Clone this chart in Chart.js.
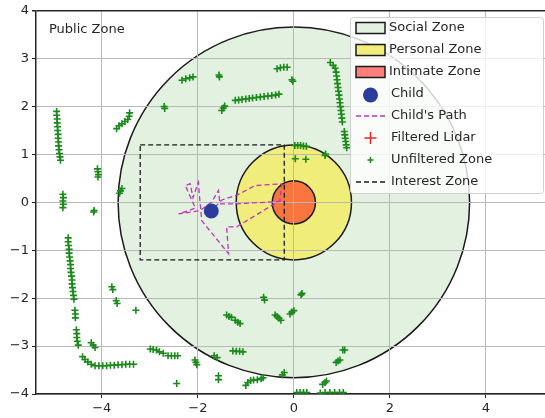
<!DOCTYPE html>
<html>
<head>
<meta charset="utf-8">
<script src="https://cdn.jsdelivr.net/npm/chart.js@4.4.0/dist/chart.umd.min.js"></script>
<style>
html, body { margin: 0; padding: 0; background: #fff; }
</style>
</head>
<body>
<canvas id="zones-chart" width="545" height="418"></canvas>
<script>
// tick labels
var xTicks = [-4, -2, 0, 2, 4];
var yTicks = [-4, -3, -2, -1, 0, 1, 2, 3, 4];

// zones around the robot (radius in metres)
var zoneNames = ["Social Zone", "Personal Zone", "Intimate Zone"];
var zoneRadii = [3.66, 1.2, 0.45];

// child position and path
var childX = [-1.72];
var childY = [-0.18];
var pathX = [-0.27, -1.22, -1.54, -1.57, -1.71, -1.95, -2.40, -2.05, -2.26, -2.16, -2.10, -1.99, -1.92, -1.36, -1.40, -1.19, -0.29, -0.25, -0.81, -1.19, -1.50, -1.72];
var pathY = [0.02, -0.03, -0.03, 0.25, 0.01, -0.17, -0.24, -0.12, 0.35, 0.39, 0.10, 0.42, -0.38, -1.07, -0.51, -0.51, 0.04, 0.39, 0.35, 0.15, 0.05, -0.18];

// interest zone rectangle corners
var interestX = [-3.2, -0.2, -0.2, -3.2, -3.2];
var interestY = [1.2, 1.2, -1.2, -1.2, 1.2];

// unfiltered lidar points
var lidarX = [
  -4.94, -4.94, -4.93, -4.93, -4.92, -4.92, -4.91, -4.91, -4.90, -4.90, -4.89, -4.88, -4.87, -4.86,
  -4.09, -4.08, -4.07, -4.08,
  -4.81, -4.80, -4.81, -4.80, -4.81,
  -4.16, -4.17,
  -3.69, -3.64, -3.58, -3.52, -3.46, -3.43, -3.42,
  -3.58, -3.63, -3.61,
  -4.70, -4.70, -4.69, -4.68, -4.68, -4.67, -4.66, -4.65, -4.65, -4.64, -4.63, -4.62, -4.62, -4.61, -4.60, -4.59, -4.58,
  -4.56, -4.55, -4.55,
  -4.53, -4.52, -4.52, -4.51, -4.49,
  -4.22, -4.18, -4.14,
  -3.79, -3.77, -3.70, -3.68, -3.29,
  -4.40, -4.35, -4.29, -4.22, -4.14, -4.06, -3.98, -3.90, -3.82, -3.74, -3.66, -3.58, -3.50, -3.42, -3.34,
  -2.33, -2.25, -2.17, -2.10,
  -1.56, -1.55,
  -2.70, -2.69,
  -1.50, -1.47, -1.44,
  -1.22, -1.15, -1.08, -1.00, -0.93, -0.86, -0.78, -0.70, -0.62, -0.54, -0.46, -0.38, -0.31,
  -0.35, -0.28, -0.21, -0.14,
  -0.04, -0.02,
  0.76, 0.82, 0.86, 0.88, 0.89, 0.90, 0.91, 0.92, 0.93, 0.94, 0.95, 0.96, 0.97, 0.98, 0.99, 1.00, 1.01, 1.05, 1.06, 1.07, 1.08, 1.09, 1.10,
  0.02, 0.08, 0.14, 0.20, 0.26,
  0.03, 0.25, 0.65, 0.66,
  -0.63, -0.61,
  0.17, 0.15,
  -1.40, -1.35, -1.30, -1.22, -1.17, -1.12,
  -0.39, -0.35, -0.31, -0.27,
  -0.08, -0.04, 0.00,
  -2.99, -2.93, -2.86, -2.80, -2.72,
  -2.62, -2.55, -2.48, -2.42,
  -2.06, -2.04, -2.02,
  -2.44,
  -1.57, -1.57,
  -1.66, -1.60,
  -1.27, -1.20, -1.13, -1.06,
  -1.00, -0.96, -0.90, -0.84, -0.76, -0.68, -0.64,
  -0.20, -0.24,
  0.06, 0.13, 0.20, 0.27,
  0.55, 0.65, 0.75, 0.85, 0.95, 1.03,
  0.60, 0.65, 0.68,
  0.88, 0.92, 0.96,
  1.02, 1.06
];
var lidarY = [
  1.90, 1.82, 1.74, 1.66, 1.58, 1.50, 1.42, 1.34, 1.26, 1.18, 1.10, 1.02, 0.95, 0.88,
  0.70, 0.64, 0.58, 0.53,
  0.17, 0.10, 0.03, -0.04, -0.11,
  -0.17, -0.20,
  1.54, 1.60, 1.64, 1.69, 1.73, 1.80, 1.87,
  0.29, 0.19, 0.24,
  -0.74, -0.82, -0.90, -0.98, -1.06, -1.14, -1.22, -1.30, -1.38, -1.46, -1.54, -1.62, -1.70, -1.78, -1.86, -1.94, -2.02,
  -2.25, -2.33, -2.41,
  -2.66, -2.74, -2.82, -2.90, -2.98,
  -2.93, -2.98, -3.03,
  -1.76, -1.82, -2.05, -2.11, -2.25,
  -3.22, -3.28, -3.33, -3.38, -3.41, -3.41, -3.41, -3.41, -3.40, -3.40, -3.39, -3.39, -3.38, -3.38, -3.38,
  2.55, 2.58, 2.60, 2.62,
  2.66, 2.62,
  2.00, 1.96,
  1.92, 1.97, 2.01,
  2.13, 2.14, 2.15, 2.16, 2.17, 2.18, 2.19, 2.20, 2.21, 2.22, 2.23, 2.24, 2.26,
  2.79, 2.81, 2.82, 2.82,
  2.56, 2.53,
  2.92, 2.86, 2.80, 2.72, 2.64, 2.56, 2.48, 2.40, 2.32, 2.24, 2.16, 2.08, 2.00, 1.92, 1.84, 1.76, 1.68, 1.48, 1.41, 1.34, 1.27, 1.20, 1.14,
  1.19, 1.19, 1.19, 1.18, 1.17,
  0.91, 0.90, 0.98, 1.01,
  -1.98, -2.04,
  -1.90, -1.93,
  -2.35, -2.38, -2.40, -2.46, -2.50, -2.53,
  -2.35, -2.38, -2.42, -2.46,
  -2.33, -2.29, -2.26,
  -3.06, -3.07, -3.08, -3.12, -3.15,
  -3.20, -3.20, -3.20, -3.20,
  -3.29, -3.34, -3.39,
  -3.78,
  -3.62, -3.70,
  -3.20, -3.24,
  -3.10, -3.11, -3.11, -3.12,
  -3.82, -3.76, -3.72, -3.71, -3.70, -3.68, -3.66,
  -3.55, -3.60,
  -3.97, -3.97, -3.97, -3.97,
  -3.98, -3.97, -3.97, -3.97, -3.97, -3.97,
  -3.80, -3.76, -3.73,
  -3.34, -3.31, -3.29,
  -3.08, -3.08
];

var legendLabels = ["Social Zone", "Personal Zone", "Intimate Zone", "Child", "Child's Path", "Filtered Lidar", "Unfiltered Zone", "Interest Zone"];

var zoneFill = ['#e3f1e0', '#f1ed7a', 'rgba(255, 0, 0, 0.5)'];
var fontFamily = "'DejaVu Sans', sans-serif";
var textColor = '#262626';

function toPoints(xs, ys) {
  var pts = [];
  for (var i = 0; i < xs.length; i++) {
    pts.push({x: xs[i], y: ys[i]});
  }
  return pts;
}

function fmt(v) {
  return v < 0 ? '\u2212' + (-v) : String(v);
}

// circles for the zones, drawn under the grid
var zonesPlugin = {
  id: 'zones',
  beforeDraw: function(chart) {
    var ctx = chart.ctx;
    var xs = chart.scales.x, ys = chart.scales.y;
    var area = chart.chartArea;
    ctx.save();
    ctx.fillStyle = '#fff';
    ctx.fillRect(0, 0, chart.width, chart.height);
    ctx.beginPath();
    ctx.rect(area.left, area.top, area.right - area.left, area.bottom - area.top);
    ctx.clip();
    for (var i = 0; i < zoneRadii.length; i++) {
      var cx = xs.getPixelForValue(0), cy = ys.getPixelForValue(0);
      var rx = xs.getPixelForValue(zoneRadii[i]) - cx;
      var ry = cy - ys.getPixelForValue(zoneRadii[i]);
      ctx.beginPath();
      ctx.ellipse(cx, cy, rx, ry, 0, 0, Math.PI * 2);
      ctx.fillStyle = zoneFill[i];
      ctx.fill();
      ctx.lineWidth = 1.5;
      ctx.strokeStyle = '#1a1a1a';
      ctx.stroke();
    }
    ctx.restore();
  },
  afterDraw: function(chart) {
    var ctx = chart.ctx;
    var xs = chart.scales.x, ys = chart.scales.y;
    ctx.save();
    ctx.font = '13px ' + fontFamily;
    ctx.fillStyle = textColor;
    ctx.textAlign = 'left';
    ctx.textBaseline = 'middle';
    ctx.fillText('Public Zone', xs.getPixelForValue(-5.1), ys.getPixelForValue(3.6));

    // legend box
    var bx = 350, by = 17, bw = 193, bh = 176;
    ctx.fillStyle = 'rgba(255,255,255,0.8)';
    ctx.strokeStyle = '#d0d0d0';
    ctx.lineWidth = 1;
    ctx.beginPath();
    ctx.roundRect(bx + 0.5, by + 0.5, bw, bh, 3);
    ctx.fill();
    ctx.stroke();

    for (var i = 0; i < legendLabels.length; i++) {
      var ry = 28 + i * 22;
      var hx = 356, hw = 29, mid = hx + hw / 2;
      if (i < 3) {
        ctx.fillStyle = i === 2 ? 'rgba(255,0,0,0.5)' : zoneFill[i];
        ctx.fillRect(hx, ry - 5.5, hw, 11);
        ctx.lineWidth = 1.5;
        ctx.strokeStyle = '#1a1a1a';
        ctx.strokeRect(hx, ry - 5.5, hw, 11);
      } else if (i === 3) {
        ctx.beginPath();
        ctx.arc(mid, ry + 1, 7.5, 0, Math.PI * 2);
        ctx.fillStyle = '#2b3c9c';
        ctx.fill();
      } else if (i === 4 || i === 7) {
        ctx.beginPath();
        ctx.setLineDash([5, 3]);
        ctx.lineWidth = 1.5;
        ctx.strokeStyle = i === 4 ? '#bf33bf' : '#1a1a1a';
        ctx.moveTo(hx, ry);
        ctx.lineTo(hx + hw, ry);
        ctx.stroke();
        ctx.setLineDash([]);
      } else if (i === 5) {
        ctx.beginPath();
        ctx.lineWidth = 1.5;
        ctx.strokeStyle = '#e8262a';
        ctx.moveTo(mid - 6, ry);
        ctx.lineTo(mid + 6, ry);
        ctx.moveTo(mid, ry - 6);
        ctx.lineTo(mid, ry + 6);
        ctx.stroke();
      } else if (i === 6) {
        ctx.beginPath();
        ctx.lineWidth = 1.5;
        ctx.strokeStyle = '#1a8a1a';
        ctx.moveTo(mid - 3, ry);
        ctx.lineTo(mid + 3, ry);
        ctx.moveTo(mid, ry - 3);
        ctx.lineTo(mid, ry + 3);
        ctx.stroke();
      }
      ctx.fillStyle = textColor;
      ctx.font = '13px ' + fontFamily;
      ctx.fillText(legendLabels[i], i < 3 ? 389 : 391, ry);
    }
    ctx.restore();
  }
};

var chart = new Chart(document.getElementById('zones-chart').getContext('2d'), {
  type: 'scatter',
  data: {
    datasets: [
      {
        label: 'Child',
        data: toPoints(childX, childY),
        pointRadius: 7.5,
        pointBackgroundColor: '#2b3c9c',
        pointBorderWidth: 0
      },
      {
        label: "Child's Path",
        data: toPoints(pathX, pathY),
        showLine: true,
        borderColor: '#bf33bf',
        borderWidth: 1.3,
        borderDash: [5, 3],
        pointRadius: 0,
        tension: 0
      },
      {
        label: 'Filtered Lidar',
        data: [],
        pointStyle: 'cross',
        borderColor: '#e8262a'
      },
      {
        label: 'Interest Zone',
        data: toPoints(interestX, interestY),
        showLine: true,
        borderColor: '#1a1a1a',
        borderWidth: 1.3,
        borderDash: [5, 3],
        pointRadius: 0,
        tension: 0
      },
      {
        label: 'Unfiltered Zone',
        data: toPoints(lidarX, lidarY),
        pointStyle: 'cross',
        pointRadius: 3.5,
        pointBorderColor: '#1a8a1a',
        pointBorderWidth: 1.6
      }
    ]
  },
  options: {
    responsive: false,
    animation: false,
    layout: { autoPadding: false, padding: { top: 10, right: 0, left: 0, bottom: 0 } },
    plugins: {
      legend: { display: false },
      tooltip: { enabled: false }
    },
    scales: {
      x: {
        type: 'linear',
        min: -5.37,
        max: 5.23,
        afterBuildTicks: function(scale) {
          scale.ticks = xTicks.map(function(v) { return {value: v}; });
        },
        afterFit: function(scale) {
          scale.height = 24;
          scale.paddingLeft = 0;
          scale.paddingRight = 0;
        },
        grid: { color: '#b8b8b8', lineWidth: 1, tickLength: 4, tickColor: '#262626' },
        border: { color: '#262626', width: 1.5 },
        ticks: {
          color: textColor,
          font: { family: fontFamily, size: 13 },
          padding: 3,
          maxRotation: 0,
          callback: function(v) { return fmt(v); }
        }
      },
      y: {
        type: 'linear',
        min: -4,
        max: 4,
        afterBuildTicks: function(scale) {
          scale.ticks = yTicks.map(function(v) { return {value: v}; });
        },
        afterFit: function(scale) { scale.width = 36; },
        grid: {
          color: function(c) { return c.tick && c.tick.value === 4 ? '#262626' : '#b8b8b8'; },
          lineWidth: function(c) { return c.tick && c.tick.value === 4 ? 1.5 : 1; },
          tickLength: 4,
          tickColor: '#262626'
        },
        border: { color: '#262626', width: 1.5 },
        ticks: {
          color: textColor,
          font: { family: fontFamily, size: 13 },
          padding: 3,
          callback: function(v) { return fmt(v); }
        }
      }
    }
  },
  plugins: [zonesPlugin]
});
</script>
</body>
</html>
